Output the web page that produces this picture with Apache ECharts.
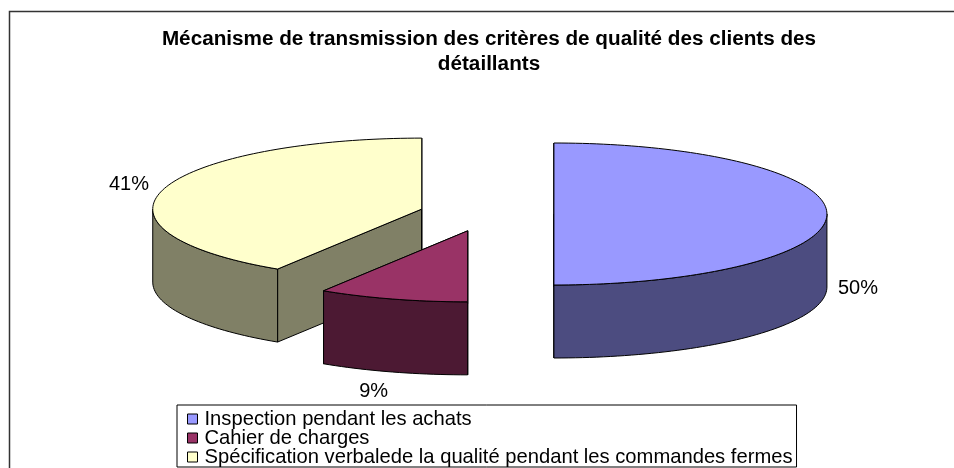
<!DOCTYPE html>
<html>
<head>
<meta charset="utf-8">
<style>html,body{margin:0;padding:0;background:#fff}#c{width:954px;height:468px}</style>
<script src="https://cdn.jsdelivr.net/npm/echarts@6/dist/echarts.min.js"></script>
</head>
<body>
<div id="c"></div>
<script>
const titleText = 'Mécanisme de transmission des critères de qualité des clients des\ndétaillants';
const categories = ['Inspection pendant les achats', 'Cahier de charges', 'Spécification verbalede la qualité pendant les commandes fermes'];
const values = [50, 9, 41];
const percentLabels = ['50%', '9%', '41%'];
const topColors = ['#9999FF', '#993366', '#FFFFCC'];
const sideColors = ['#4C4C80', '#4C1933', '#808066'];

// layout of the projected pie
const PIE = { cx: 486.5, cy: 214, rxRight: 273, rxLeft: 269, ry: 71, depth: 73, explode: 0.247 };
const LABEL_NUDGE = [[31, 74], [-19, 92], [-34.5, -5]];

const total = values.reduce((a, b) => a + b, 0);
const RAD = Math.PI / 180;
function startAngle(i) {
  return values.slice(0, i).reduce((a, b) => a + b, 0) / total * 360;
}
function sweep(i) { return values[i] / total * 360; }

function renderSlice(i) {
  const a0 = startAngle(i), a1 = a0 + sweep(i), mid = (a0 + a1) / 2;
  const cx = PIE.cx + Math.sin(mid * RAD) * PIE.explode * PIE.rxRight;
  const cy = PIE.cy - Math.cos(mid * RAD) * PIE.explode * PIE.ry;
  const pt = (a, dz) => {
    const s = Math.sin(a * RAD);
    return [cx + s * (s >= 0 ? PIE.rxRight : PIE.rxLeft), cy - Math.cos(a * RAD) * PIE.ry + (dz || 0)];
  };
  const arc = (s, e, dz) => {
    const n = Math.max(2, Math.ceil(Math.abs(e - s) / 1.5));
    const out = [];
    for (let k = 0; k <= n; k++) out.push(pt(s + (e - s) * k / n, dz));
    return out;
  };
  const style = fill => ({ fill, stroke: '#000', lineWidth: 1, lineJoin: 'round' });
  const apex = [cx, cy], apexLow = [cx, cy + PIE.depth];
  const children = [];
  // radial faces
  [a0, a1].forEach(a => {
    children.push({ type: 'polygon', shape: { points: [apex, pt(a), pt(a, PIE.depth), apexLow] }, style: style(sideColors[i]) });
  });
  // outer wall (front half only)
  const ws = Math.max(a0, 90), we = Math.min(a1, 270);
  if (we > ws) {
    const upper = arc(ws, we, 0), lower = arc(ws, we, PIE.depth).reverse();
    children.push({ type: 'polygon', shape: { points: upper.concat(lower) }, style: style(sideColors[i]) });
  }
  // top face
  children.push({ type: 'polygon', shape: { points: [apex].concat(arc(a0, a1, 0)) }, style: style(topColors[i]) });
  // percentage label
  const lp = pt(mid);
  children.push({
    type: 'text',
    style: {
      text: percentLabels[i],
      x: lp[0] + LABEL_NUDGE[i][0], y: lp[1] + LABEL_NUDGE[i][1],
      fill: '#000', font: '20px "Liberation Sans", Arial, sans-serif',
      textAlign: 'center', textVerticalAlign: 'middle'
    }
  });
  return { type: 'group', children };
}

const drawOrder = [2, 1, 0];
const series = categories.map((name, i) => ({
  type: 'custom',
  name,
  coordinateSystem: 'none',
  silent: true,
  z: 2 + drawOrder.indexOf(i),
  itemStyle: { color: topColors[i] },
  data: [values[i]],
  renderItem: () => renderSlice(i)
}));

const chart = echarts.init(document.getElementById('c'), null, { renderer: 'canvas' });
chart.setOption({
  animation: false,
  backgroundColor: '#fff',
  title: {
    text: titleText,
    left: 484, top: 22, textAlign: 'center',
    textStyle: { fontFamily: '"Liberation Sans", Arial, sans-serif', fontWeight: 'bold', fontSize: 20.7, lineHeight: 25, color: '#000' }
  },
  legend: {
    orient: 'vertical', left: 177, top: 405, height: 100, width: 700,
    padding: [4, 4, 0, 10],
    itemGap: -1, itemWidth: 10, itemHeight: 10,
    icon: 'rect',
    backgroundColor: '#fff',
    borderColor: '#000', borderWidth: 1,
    selectedMode: false,
    itemStyle: { borderColor: '#000', borderWidth: 1 },
    textStyle: { fontFamily: '"Liberation Sans", Arial, sans-serif', fontSize: 20.2, lineHeight: 19, color: '#000', padding: [0, 0, 0, 2] },
    data: categories
  },
  graphic: [{
    type: 'polyline', silent: true, z: 0,
    shape: { points: [[9.5, 468], [9.5, 11.5], [954, 11.5]] },
    style: { stroke: '#333', lineWidth: 1.5, fill: 'none' }
  }],
  series
});
</script>
</body>
</html>
